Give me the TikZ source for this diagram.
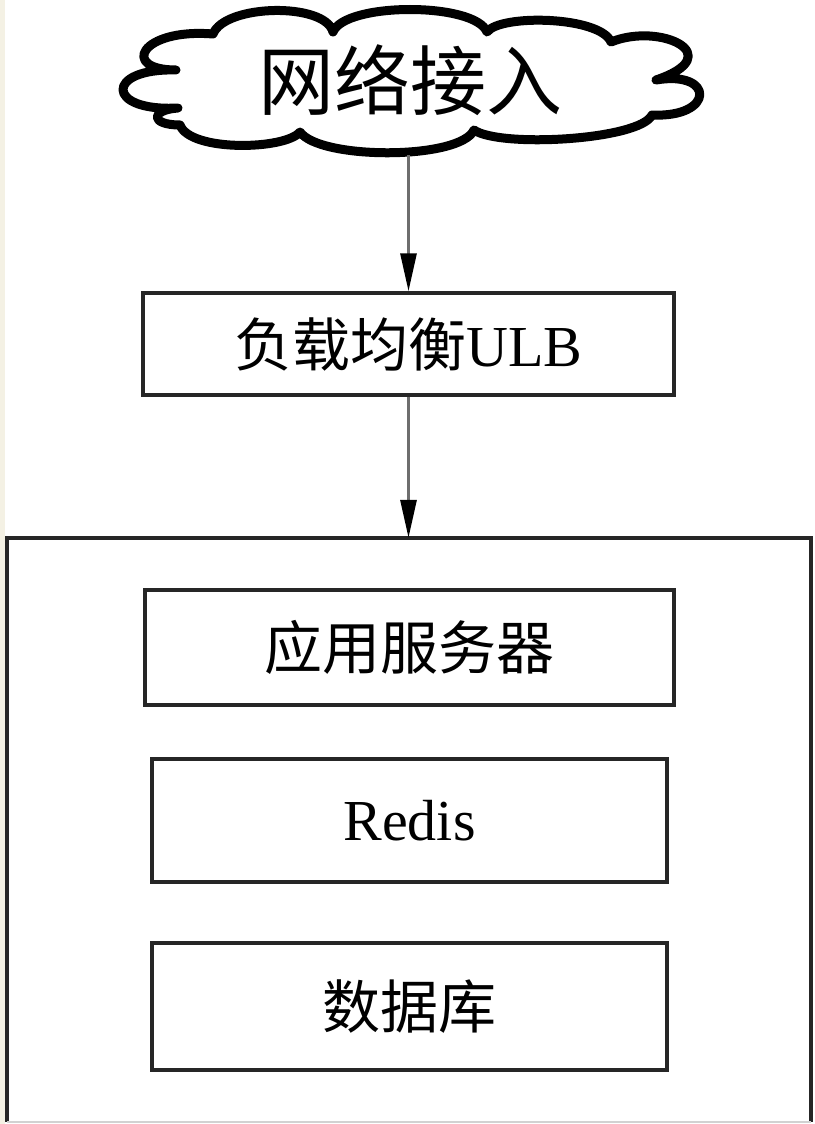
\documentclass[tikz,border=0pt]{standalone}
\usepackage{fontspec}
\setmainfont{Liberation Serif}
\newfontfamily\cjk{Noto Sans CJK SC}
\usetikzlibrary{arrows.meta}
\definecolor{edge}{HTML}{262626}
\definecolor{shaft}{HTML}{6E6E6E}
\definecolor{paper}{HTML}{F4F1E4}

\begin{document}
\begin{tikzpicture}[x=1pt,y=-1pt,>={Triangle[length=38pt,width=16pt,color=black]},
  box/.style={draw=edge,line width=3.5pt,inner sep=0pt,font=\fontsize{58}{60}\selectfont},
  flow/.style={->,shaft,line width=3pt}]
\useasboundingbox[fill=white] (0,0) rectangle (814,1124);
\fill[paper] (0,0) rectangle (5,1124);
% cloud on top
\draw[line width=9pt,line join=round]
  (176,70) .. controls (120,70) and (140,28) .. (213,34)
  .. controls (225,4) and (325,2) .. (333,32)
  .. controls (345,2) and (475,2) .. (487,32)
  .. controls (500,14) and (600,16) .. (611,42)
  .. controls (660,22) and (730,55) .. (656,80)
  .. controls (715,70) and (715,118) .. (652,115)
  .. controls (640,140) and (500,148) .. (474,130)
  .. controls (460,160) and (320,160) .. (300,132)
  .. controls (285,150) and (190,152) .. (180,125)
  .. controls (150,125) and (150,110) .. (178,108)
  .. controls (105,112) and (105,68) .. cycle;
\node[minimum width=580pt,minimum height=150pt,inner sep=0pt,font=\cjk\fontsize{76}{80}\selectfont] (net) at (410,80) {网络接入};
\node[box,minimum width=531pt,minimum height=102pt] (ulb) at (408.5,344) {{\cjk 负载均衡}ULB};
% server group
\node[minimum width=804pt,minimum height=584pt,inner sep=0pt] (grp) at (409,830) {};
\draw[edge,line width=3.5pt] (grp.south west) |- (grp.north east) -- (grp.south east);
\draw[gray!35,line width=1.5pt] (grp.south west) -- (grp.south east);
\node[box,minimum width=529pt,minimum height=115pt] (app) at (409.5,647.5) {\cjk 应用服务器};
\node[box,minimum width=515pt,minimum height=123pt] (redis) at (409.5,820.5) {Redis};
\node[box,minimum width=515pt,minimum height=127pt] (db) at (409.5,1006.5) {\cjk 数据库};
\draw[flow] (net.south -| ulb.north) -- (ulb.north);
\draw[flow] (ulb.south) -- (ulb.south |- grp.north);
\end{tikzpicture}
\end{document}
